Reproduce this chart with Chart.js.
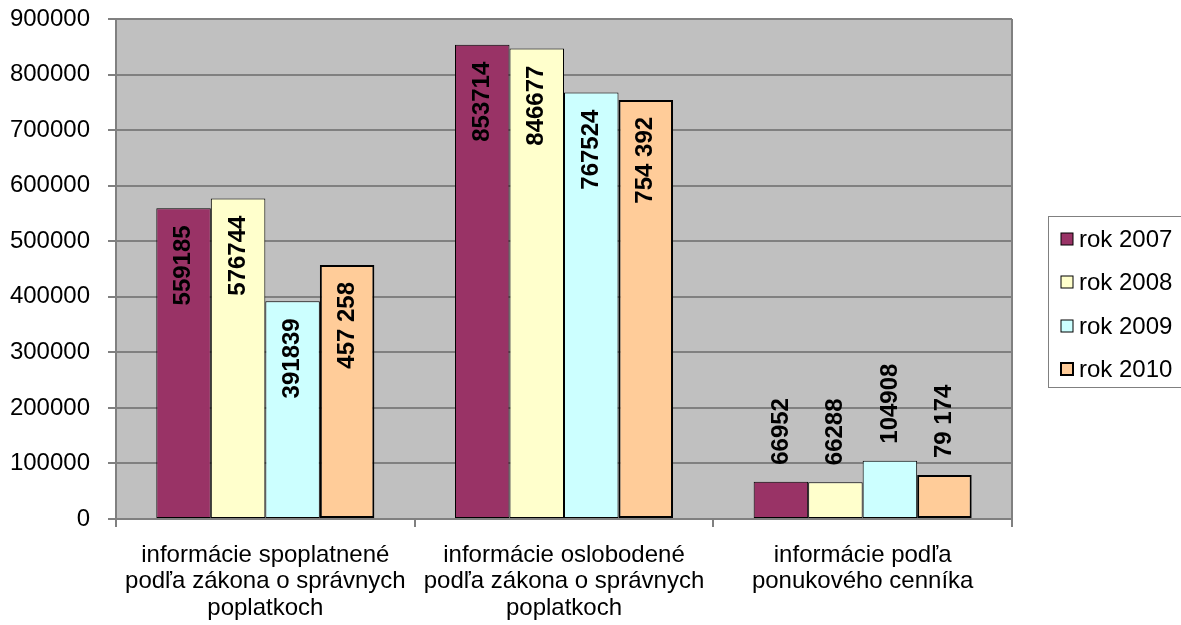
<!DOCTYPE html>
<html>
<head>
<meta charset="utf-8">
<script src="https://cdn.jsdelivr.net/npm/chart.js@4.4.0/dist/chart.umd.min.js"></script>
<style>
  html, body { margin: 0; padding: 0; background: #ffffff; }
  #wrap { width: 1181px; height: 625px; }
</style>
</head>
<body>
<div id="wrap"><canvas id="c" width="1181" height="625"></canvas></div>
<script>
const categories = [
  ["informácie spoplatnené", "podľa zákona o správnych", "poplatkoch"],
  ["informácie oslobodené", "podľa zákona o správnych", "poplatkoch"],
  ["informácie podľa", "ponukového cenníka"]
];
const seriesNames = ["rok 2007", "rok 2008", "rok 2009", "rok 2010"];
const values2007 = [559185, 853714, 66952];
const values2008 = [576744, 846677, 66288];
const values2009 = [391839, 767524, 104908];
const values2010 = [457258, 754392, 79174];
const labels2007 = ["559185", "853714", "66952"];
const labels2008 = ["576744", "846677", "66288"];
const labels2009 = ["391839", "767524", "104908"];
const labels2010 = ["457 258", "754 392", "79 174"];
const yTicks = [0, 100000, 200000, 300000, 400000, 500000, 600000, 700000, 800000, 900000];

const FONT = "'Liberation Sans', Arial, sans-serif";
const colors = ["#993366", "#FFFFCC", "#CCFFFF", "#FFCC99"];
const borderW = [1, 1, 1, 2];
const allValues = [values2007, values2008, values2009, values2010];
const allLabels = [labels2007, labels2008, labels2009, labels2010];

const datasets = seriesNames.map((n, i) => ({
  label: n,
  data: allValues[i],
  valueLabels: allLabels[i],
  backgroundColor: colors[i],
  borderColor: "#000000",
  borderWidth: borderW[i],
  borderSkipped: false,
  categoryPercentage: 0.73,
  barPercentage: 1.0
}));

const plotBg = {
  id: "plotBg",
  beforeDraw(chart) {
    const { ctx, chartArea: a } = chart;
    ctx.save();
    ctx.fillStyle = "#C0C0C0";
    ctx.fillRect(a.left, a.top, a.right - a.left, a.bottom - a.top);
    ctx.restore();
  },
  afterDatasetsDraw(chart) {
    const { ctx, chartArea: a } = chart;
    ctx.save();
    ctx.strokeStyle = "#808080";
    ctx.lineWidth = 2;
    ctx.beginPath();
    ctx.moveTo(a.right, a.top);
    ctx.lineTo(a.right, a.bottom + 8);
    ctx.stroke();
    ctx.restore();
  }
};

const valueLabels = {
  id: "valueLabels",
  afterDatasetsDraw(chart) {
    const ctx = chart.ctx;
    ctx.save();
    ctx.font = "bold 24px " + FONT;
    ctx.fillStyle = "#000000";
    ctx.textBaseline = "middle";
    chart.data.datasets.forEach((ds, di) => {
      const meta = chart.getDatasetMeta(di);
      meta.data.forEach((bar, i) => {
        const txt = ds.valueLabels[i];
        const w = ctx.measureText(txt).width;
        const h = bar.base - bar.y;
        ctx.save();
        if (h > w + 40) {
          ctx.translate(bar.x, bar.y + 17);
          ctx.rotate(-Math.PI / 2);
          ctx.textAlign = "right";
        } else {
          ctx.translate(bar.x, bar.y - 17);
          ctx.rotate(-Math.PI / 2);
          ctx.textAlign = "left";
        }
        ctx.fillText(txt, 0, 0);
        ctx.restore();
      });
    });
    ctx.restore();
  }
};

const customLegend = {
  id: "customLegend",
  afterDraw(chart) {
    const ctx = chart.ctx;
    ctx.save();
    ctx.strokeStyle = "#808080";
    ctx.lineWidth = 1;
    ctx.fillStyle = "#ffffff";
    ctx.fillRect(1048.5, 216.5, 140, 171);
    ctx.strokeRect(1048.5, 216.5, 140, 171);
    ctx.font = "24px " + FONT;
    ctx.textBaseline = "middle";
    ctx.textAlign = "left";
    const ys = [239, 282, 326, 369];
    chart.data.datasets.forEach((ds, i) => {
      const y = ys[i];
      ctx.fillStyle = ds.backgroundColor;
      ctx.fillRect(1061, y - 6, 12, 12);
      ctx.strokeStyle = "#000000";
      ctx.lineWidth = ds.borderWidth;
      ctx.strokeRect(1061, y - 6, 12, 12);
      ctx.fillStyle = "#000000";
      ctx.fillText(ds.label, 1079, y + 1);
    });
    ctx.restore();
  }
};

new Chart(document.getElementById("c"), {
  type: "bar",
  data: { labels: categories, datasets },
  plugins: [plotBg, valueLabels, customLegend],
  options: {
    responsive: false,
    animation: false,
    devicePixelRatio: 1,
    layout: { padding: { top: 19, right: 169, bottom: 0, left: 0 } },
    plugins: {
      legend: { display: false },
      tooltip: { enabled: false }
    },
    scales: {
      x: {
        grid: {
          display: true,
          drawOnChartArea: false,
          drawTicks: true,
          tickLength: 8,
          color: "#808080",
          lineWidth: 2,
          offset: true
        },
        border: { display: true, color: "#808080", width: 2 },
        ticks: {
          color: "#000000",
          font: { family: FONT, size: 24, lineHeight: 1.1 },
          padding: 15,
          maxRotation: 0,
          autoSkip: false
        },
        afterFit(scale) { scale.height = 106; }
      },
      y: {
        min: 0,
        max: 900000,
        afterBuildTicks(scale) { scale.ticks = yTicks.map(v => ({ value: v })); },
        grid: {
          color: "#808080",
          lineWidth: 2,
          tickLength: 8,
          drawTicks: true
        },
        border: { display: true, color: "#808080", width: 2 },
        ticks: {
          color: "#000000",
          font: { family: FONT, size: 24 },
          padding: 18,
          callback: (v) => String(v)
        },
        afterFit(scale) {
          scale.width = 116;
          scale.paddingTop = 0;
          scale.paddingBottom = 0;
        }
      }
    }
  }
});
</script>
</body>
</html>
